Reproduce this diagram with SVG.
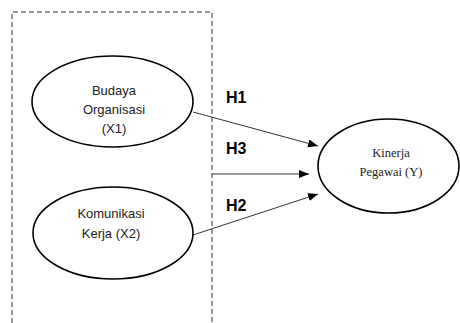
<svg xmlns="http://www.w3.org/2000/svg" width="460" height="323" viewBox="0 0 460 323">
<style>
.node{fill:#fff;stroke:#000;stroke-width:1.6}
.sans{font-family:"Liberation Sans",Arial,sans-serif;font-size:13px;fill:#222;text-anchor:middle}
.serif{font-family:"Liberation Serif","Times New Roman",serif;font-size:12.5px;fill:#222;text-anchor:middle}
.lbl{font-family:"Liberation Sans",Arial,sans-serif;font-size:16px;font-weight:bold;fill:#000}
.conn{stroke:#333;stroke-width:1;fill:none;marker-end:url(#ah)}
</style>
<defs>
<marker id="ah" markerWidth="10" markerHeight="8" refX="10" refY="4" orient="auto" markerUnits="userSpaceOnUse">
<path d="M0,0 L10,4 L0,8 Z" fill="#000"/>
</marker>
</defs>
<rect width="460" height="323" fill="#fff"/>
<path id="frame" d="M12,323 L12,12 L212,12 L212,323" fill="none" stroke="#333" stroke-width="1" stroke-dasharray="5,3"/>
<g id="connectors">
<line class="conn" x1="193" y1="112" x2="318" y2="146"/>
<line class="conn" x1="212" y1="174" x2="309" y2="174"/>
<line class="conn" x1="193" y1="235" x2="318" y2="194"/>
<text class="lbl" x="226" y="103">H1</text>
<text class="lbl" x="226" y="154">H3</text>
<text class="lbl" x="226" y="211">H2</text>
</g>
<g id="x1">
<ellipse class="node" cx="112.5" cy="101.5" rx="80.5" ry="45.5"/>
<text class="sans" x="114" y="94.5">Budaya</text>
<text class="sans" x="114" y="114">Organisasi</text>
<text class="sans" x="114" y="133">(X1)</text>
</g>
<g id="x2">
<ellipse class="node" cx="113" cy="233" rx="80" ry="46"/>
<text class="sans" x="111" y="217.5">Komunikasi</text>
<text class="sans" x="111" y="237.5">Kerja (X2)</text>
</g>
<g id="y">
<ellipse class="node" cx="388.5" cy="166" rx="70.5" ry="47"/>
<text class="serif" x="391" y="157">Kinerja</text>
<text class="serif" x="391" y="176">Pegawai (Y)</text>
</g>
</svg>
